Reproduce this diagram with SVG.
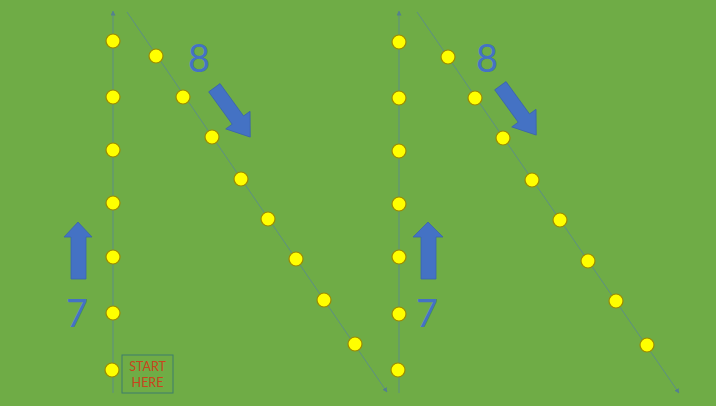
<svg xmlns="http://www.w3.org/2000/svg" width="716" height="406" viewBox="0 0 716 406">
  <defs>
    <marker id="ah" viewBox="0 0 10 10" refX="9" refY="5" markerWidth="5" markerHeight="5" orient="auto" markerUnits="userSpaceOnUse">
      <path d="M0,0 L10,5 L0,10 z" fill="#55808f"/>
    </marker>
    <style>
      .path { stroke: #5e8f84; stroke-width: 1; fill: none; }
      .cone { fill: #ffff00; stroke: #9a8a00; stroke-width: 1.2; }
      .num { font-family: Lato, "Liberation Sans", sans-serif; font-size: 38px; fill: #4472c4; text-anchor: middle; }
      .arrow { fill: #4472c4; stroke: #3b64ad; stroke-width: 0.8; }
      .start { font-family: Lato, "Liberation Sans", sans-serif; font-size: 12.5px; fill: #c8451c; text-anchor: middle; }
    </style>
  </defs>
  <rect x="0" y="0" width="716" height="406" fill="#6fac46"/>

  <g id="connectors">
    <line class="path" x1="113" y1="393" x2="113" y2="11" marker-end="url(#ah)"/>
    <line class="path" x1="127" y1="12" x2="387" y2="392" marker-end="url(#ah)"/>
    <line class="path" x1="399" y1="393" x2="399" y2="11" marker-end="url(#ah)"/>
    <line class="path" x1="417" y1="12" x2="679" y2="393" marker-end="url(#ah)"/>
  </g>

  <g id="left-vertical-cones">
    <circle class="cone" cx="113" cy="41" r="7"/>
    <circle class="cone" cx="113" cy="97" r="7"/>
    <circle class="cone" cx="113" cy="150" r="7"/>
    <circle class="cone" cx="113" cy="203" r="7"/>
    <circle class="cone" cx="113" cy="257" r="7"/>
    <circle class="cone" cx="113" cy="313" r="7"/>
    <circle class="cone" cx="112" cy="370" r="7"/>
  </g>
  <g id="left-diagonal-cones">
    <circle class="cone" cx="156" cy="56" r="7"/>
    <circle class="cone" cx="183" cy="97" r="7"/>
    <circle class="cone" cx="212" cy="137" r="7"/>
    <circle class="cone" cx="241" cy="179" r="7"/>
    <circle class="cone" cx="268" cy="219" r="7"/>
    <circle class="cone" cx="296" cy="259" r="7"/>
    <circle class="cone" cx="324" cy="300" r="7"/>
    <circle class="cone" cx="355" cy="344" r="7"/>
  </g>
  <g id="right-vertical-cones">
    <circle class="cone" cx="399" cy="42" r="7"/>
    <circle class="cone" cx="399" cy="98" r="7"/>
    <circle class="cone" cx="399" cy="151" r="7"/>
    <circle class="cone" cx="399" cy="204" r="7"/>
    <circle class="cone" cx="399" cy="257" r="7"/>
    <circle class="cone" cx="399" cy="314" r="7"/>
    <circle class="cone" cx="398" cy="370" r="7"/>
  </g>
  <g id="right-diagonal-cones">
    <circle class="cone" cx="448" cy="57" r="7"/>
    <circle class="cone" cx="475" cy="98" r="7"/>
    <circle class="cone" cx="503" cy="138" r="7"/>
    <circle class="cone" cx="532" cy="180" r="7"/>
    <circle class="cone" cx="560" cy="220" r="7"/>
    <circle class="cone" cx="588" cy="261" r="7"/>
    <circle class="cone" cx="616" cy="301" r="7"/>
    <circle class="cone" cx="647" cy="345" r="7"/>
  </g>

  <g id="label-8-left">
    <text class="num" x="199" y="72">8</text>
  </g>
  <g id="label-8-right">
    <text class="num" x="487" y="72">8</text>
  </g>
  <g id="label-7-left">
    <text class="num" x="77" y="327">7</text>
  </g>
  <g id="label-7-right">
    <text class="num" x="427" y="327">7</text>
  </g>

  <g id="arrow-down-left">
    <polygon class="arrow" transform="translate(232,112) rotate(54)" points="-30,-7 10,-7 10,-15 31,0 10,15 10,7 -30,7"/>
  </g>
  <g id="arrow-down-right">
    <polygon class="arrow" transform="translate(518,110) rotate(54)" points="-30,-7 10,-7 10,-15 31,0 10,15 10,7 -30,7"/>
  </g>
  <g id="arrow-up-left">
    <polygon class="arrow" points="71,279 71,237 64,237 78,222 92,237 86,237 86,279"/>
  </g>
  <g id="arrow-up-right">
    <polygon class="arrow" points="421,279 421,237 413,237 428,222 443,237 436,237 436,279"/>
  </g>

  <g id="start-here">
    <rect x="122" y="355" width="51" height="38" fill="none" stroke="#3f7c6c" stroke-width="1"/>
    <text class="start" x="147.5" y="371">START</text>
    <text class="start" x="147.5" y="387">HERE</text>
  </g>
</svg>
